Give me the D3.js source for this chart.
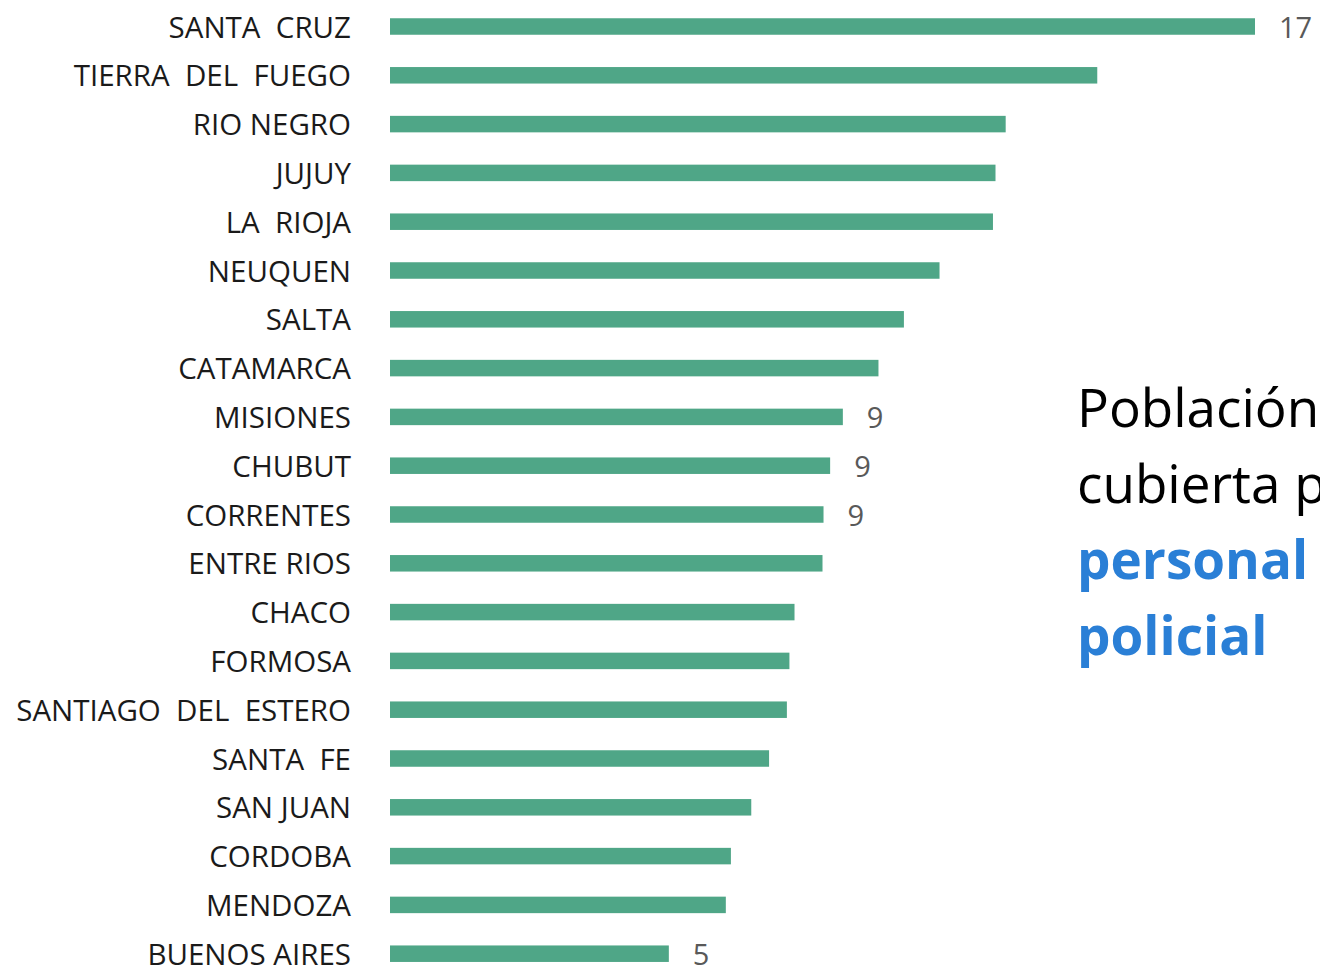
<!DOCTYPE html>
<html>
<head>
<meta charset="utf-8">
<script src="https://cdn.jsdelivr.net/npm/d3@7"></script>
<style>
  body { margin: 0; background: #fff; }
  svg { display: block; }
</style>
</head>
<body>
<script>
const width = 1320;
const height = 968;

// provinces, top to bottom (double spaces kept as in the slide)
const provinces = [
  "SANTA  CRUZ", "TIERRA  DEL  FUEGO", "RIO NEGRO", "JUJUY", "LA  RIOJA",
  "NEUQUEN", "SALTA", "CATAMARCA", "MISIONES", "CHUBUT",
  "CORRENTES", "ENTRE RIOS", "CHACO", "FORMOSA", "SANTIAGO  DEL  ESTERO",
  "SANTA  FE", "SAN JUAN", "CORDOBA", "MENDOZA", "BUENOS AIRES"
];

// estimated values
const values = [
  17.0, 13.9, 12.1, 11.9, 11.85,
  10.8, 10.1, 9.6, 8.9, 8.65,
  8.52, 8.5, 7.95, 7.85, 7.8,
  7.45, 7.1, 6.7, 6.6, 5.48
];

// only these bars carry a value label
const labelled = ["SANTA  CRUZ", "MISIONES", "CHUBUT", "CORRENTES", "BUENOS AIRES"];

const titleLines = ["Población", "cubierta por"];
const highlightLines = ["personal", "policial"];

const data = provinces.map((p, i) => ({name: p, value: values[i]}));

const svg = d3.select("body").append("svg")
  .attr("width", width)
  .attr("height", height);

const x = d3.scaleLinear()
  .domain([0, 17])
  .range([390, 1255]);

const y = d3.scalePoint()
  .domain(provinces)
  .range([26.5, 953.7]);

const barH = 16.5;

svg.append("g")
  .selectAll("rect")
  .data(data)
  .join("rect")
    .attr("x", x(0))
    .attr("y", d => y(d.name) - barH / 2)
    .attr("width", d => x(d.value) - x(0))
    .attr("height", barH)
    .attr("fill", "#4fa687");

// category labels
svg.append("g")
  .selectAll("text")
  .data(data)
  .join("text")
    .attr("x", 351)
    .attr("y", d => y(d.name) + 11)
    .attr("text-anchor", "end")
    .style("white-space", "pre")
    .attr("font-family", "'Open Sans', sans-serif")
    .attr("font-size", 29.5)
    .attr("fill", "#1a1a1a")
    .text(d => d.name);

// value labels
svg.append("g")
  .selectAll("text")
  .data(data.filter(d => labelled.includes(d.name)))
  .join("text")
    .attr("x", d => x(d.value) + 24)
    .attr("y", d => y(d.name) + 11)
    .attr("font-family", "'Open Sans', sans-serif")
    .attr("font-size", 29)
    .attr("fill", "#595959")
    .text(d => d3.format(".0f")(d.value));

// side text, runs off the right edge like the slide
const side = svg.append("text")
  .attr("x", 1077)
  .attr("y", 427)
  .attr("font-family", "'Open Sans', sans-serif")
  .attr("font-size", 53);

titleLines.forEach((t, i) => {
  side.append("tspan")
    .attr("x", 1077)
    .attr("dy", i === 0 ? 0 : 76)
    .attr("fill", "#000")
    .text(t);
});
highlightLines.forEach(t => {
  side.append("tspan")
    .attr("x", 1077)
    .attr("dy", 76)
    .attr("fill", "#2a7fd6")
    .attr("font-weight", "bold")
    .text(t);
});
</script>
</body>
</html>
